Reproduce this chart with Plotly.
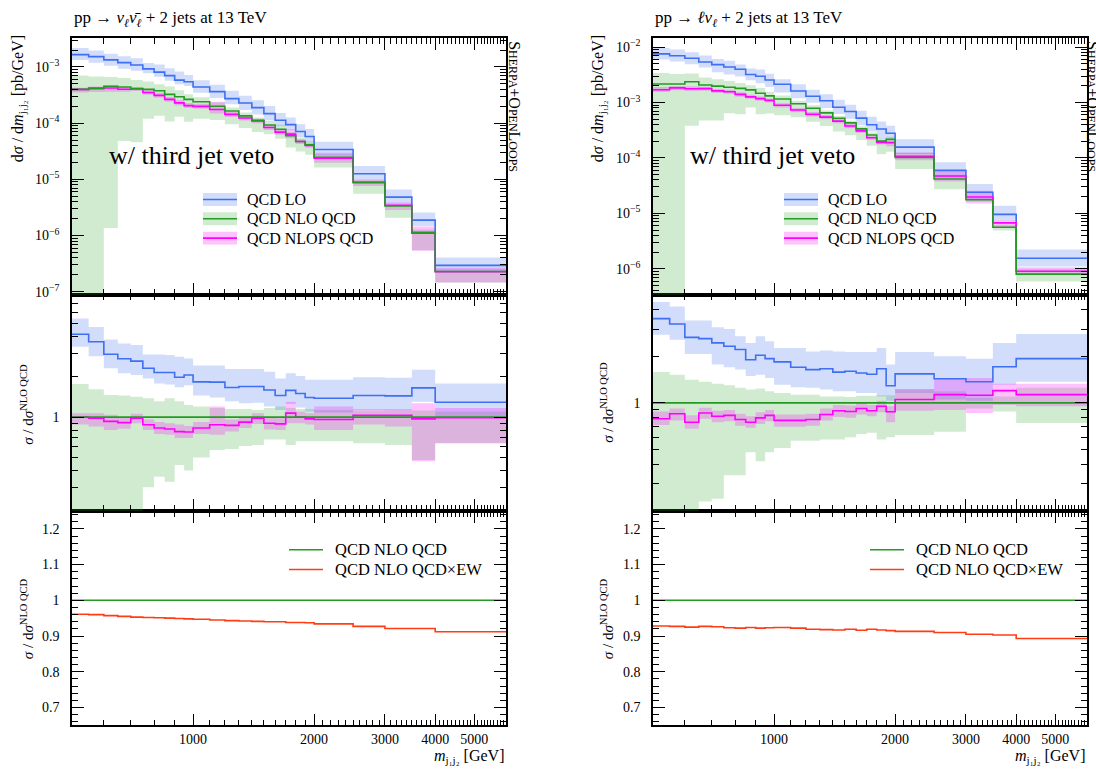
import numpy as np
import plotly.graph_objects as go

W, H = 1096, 771
FONT = "Liberation Serif"

edges = [500, 550, 600, 650, 700, 750, 800, 850, 900, 950, 1000, 1100, 1200, 1300, 1400,
         1500, 1600, 1700, 1800, 1900, 2000, 2500, 3000, 3500, 4000, 6000]

# ---------------- left: pp -> nu nu + 2 jets ----------------
nlo_L = [4.0e-4, 4.2e-4, 4.55e-4, 4.4e-4, 4.15e-4, 4.0e-4, 3.77e-4, 3.26e-4, 2.95e-4, 2.65e-4,
         2.4e-4, 2.0e-4, 1.65e-4, 1.35e-4, 1.12e-4, 9.3e-5, 7.8e-5, 5.97e-5, 4.73e-5, 4.14e-5,
         2.47e-5, 8.7e-6, 3.36e-6, 1.14e-6, 2.29e-7]
nlo_hi_L = [1.76, 1.61, 1.46, 1.45, 1.42, 1.38, 1.31, 1.38, 1.31, 1.23, 1.20, 1.17, 1.15, 1.15, 1.13,
            1.17, 1.20, 1.17, 1.15, 1.15, 1.13, 1.12, 1.12, 1.12, 1.10]
nlo_lo_L = [1e-5, 1e-5, 0.003, 0.11, 0.11, 0.30, 0.36, 0.33, 0.44, 0.40, 0.50, 0.57, 0.58, 0.61, 0.62,
            0.68, 0.68, 0.62, 0.66, 0.66, 0.66, 0.64, 0.62, 0.48, 0.64]
lo_r_L = [4.14, 3.64, 2.94, 2.72, 2.61, 2.31, 2.15, 2.15, 1.98, 2.06, 1.83, 1.82, 1.66, 1.69, 1.69,
          1.59, 1.45, 1.58, 1.50, 1.40, 1.38, 1.45, 1.44, 1.65, 1.29]
lo_hi_L = [5.42, 4.69, 3.78, 3.53, 3.44, 2.93, 2.93, 2.90, 2.81, 2.73, 2.42, 2.42, 2.28, 2.28, 2.28,
           2.18, 1.94, 2.12, 2.02, 1.90, 1.90, 1.98, 1.96, 2.25, 1.78]
lo_lo_L = [3.34, 2.84, 2.31, 2.12, 2.06, 1.94, 1.78, 1.75, 1.67, 1.73, 1.45, 1.40, 1.31, 1.27, 1.28,
           1.20, 1.13, 1.25, 1.18, 1.10, 1.08, 1.13, 1.12, 1.30, 1.00]
ps_r_L = [1.0, 0.98, 0.93, 0.91, 0.98, 0.877, 0.83, 0.815, 0.78, 0.774, 0.83, 0.877, 0.868, 0.918, 0.98,
          0.90, 0.89, 1.07, 1.0, 0.97, 0.96, 1.03, 1.03, 0.97, 0.99]
ps_hi_L = [1.07, 1.07, 1.04, 1.0, 1.06, 0.96, 0.92, 0.9, 0.88, 0.86, 0.92, 1.2, 0.96, 1.0, 1.07,
           1.0, 0.98, 1.3, 1.1, 1.07, 1.2, 1.15, 1.15, 1.27, 1.17]
ps_lo_L = [0.88, 0.85, 0.80, 0.82, 0.90, 0.80, 0.75, 0.74, 0.70, 0.70, 0.75, 0.74, 0.78, 0.83, 0.89,
           0.81, 0.80, 0.90, 0.90, 0.88, 0.80, 0.88, 0.85, 0.47, 0.64]
ew_L = [0.961, 0.960, 0.957, 0.955, 0.953, 0.952, 0.951, 0.950, 0.949, 0.948, 0.947, 0.945, 0.943,
        0.942, 0.941, 0.940, 0.940, 0.938, 0.938, 0.937, 0.934, 0.927, 0.921, 0.921, 0.912]

# ---------------- right: pp -> l nu + 2 jets ----------------
nlo_R = [2.16e-3, 2.16e-3, 2.37e-3, 2.07e-3, 1.98e-3, 1.89e-3, 1.8e-3, 1.69e-3, 1.47e-3, 1.32e-3,
         1.16e-3, 9.5e-4, 7.9e-4, 6.5e-4, 5.2e-4, 4.3e-4, 3.35e-4, 2.6e-4, 2.01e-4, 2.16e-4,
         1.02e-4, 4.17e-5, 1.76e-5, 5.6e-6, 8.0e-7]
nlo_hi_R = [1.58, 1.52, 1.41, 1.37, 1.33, 1.30, 1.25, 1.22, 1.24, 1.19, 1.16, 1.13, 1.13, 1.10, 1.10,
            1.09, 1.11, 1.11, 1.12, 1.12, 1.22, 1.19, 1.08, 1.10, 1.25]
nlo_lo_R = [1e-4, 1e-4, 0.16, 0.23, 0.24, 0.34, 0.34, 0.48, 0.42, 0.48, 0.51, 0.57, 0.57, 0.58, 0.58,
            0.60, 0.63, 0.64, 0.58, 0.60, 0.62, 0.65, 0.92, 0.88, 0.74]
lo_r_R = [3.5, 3.23, 2.65, 2.6, 2.44, 2.32, 2.21, 1.9, 2.03, 1.93, 1.84, 1.7, 1.64, 1.66, 1.58,
          1.6, 1.56, 1.53, 1.66, 1.29, 1.54, 1.43, 1.37, 1.71, 1.93]
lo_hi_R = [4.48, 4.2, 3.4, 3.4, 3.08, 3.0, 2.69, 2.44, 2.69, 2.5, 2.26, 2.26, 2.15, 2.18, 2.15,
           2.13, 2.13, 2.13, 2.26, 1.77, 2.13, 2.0, 1.93, 2.44, 2.79]
lo_lo_R = [2.76, 2.56, 2.07, 2.07, 1.77, 1.70, 1.64, 1.49, 1.52, 1.45, 1.31, 1.26, 1.25, 1.22, 1.19,
           1.19, 1.16, 1.16, 1.10, 1.03, 1.16, 1.05, 1.03, 1.31, 1.37]
ps_r_R = [0.79, 0.85, 0.75, 0.86, 0.82, 0.83, 0.78, 0.75, 0.80, 0.83, 0.77, 0.77, 0.78, 0.84, 0.89,
          0.88, 0.92, 0.89, 0.95, 0.875, 1.05, 1.13, 1.12, 1.20, 1.13]
ps_hi_R = [0.88, 0.92, 0.83, 0.93, 0.89, 0.90, 0.85, 0.82, 0.87, 0.90, 0.84, 0.84, 0.85, 0.92, 0.97,
           0.96, 1.0, 0.97, 1.03, 0.95, 1.23, 1.45, 1.45, 1.33, 1.33]
ps_lo_R = [0.72, 0.77, 0.68, 0.79, 0.75, 0.76, 0.71, 0.69, 0.73, 0.76, 0.70, 0.70, 0.71, 0.77, 0.81,
           0.80, 0.84, 0.82, 0.87, 0.75, 0.89, 0.90, 0.86, 0.97, 0.95]
ew_R = [0.928, 0.927, 0.925, 0.927, 0.926, 0.923, 0.922, 0.924, 0.922, 0.923, 0.924, 0.922, 0.919,
        0.918, 0.917, 0.919, 0.916, 0.919, 0.917, 0.915, 0.913, 0.910, 0.905, 0.903, 0.893]

x_major = [1000, 2000, 3000, 4000, 5000]
x_major_text = ["1000", "2000", "3000", "4000", "5000"]

BLUE, BLUE_F = "#3f6ff2", "rgba(70,120,240,0.25)"
GREEN, GREEN_F = "#249a24", "rgba(40,160,40,0.21)"
MAG, MAG_F = "#ff00ff", "rgba(255,0,255,0.24)"
RED = "#ff3c14"


def px(x):
    return x / W


def py(y):
    return 1 - y / H


def step(v):
    v = list(v)
    return v + [v[-1]]


fig = go.Figure()


def band(xa, ya, lo, hi, fill):
    fig.add_trace(go.Scatter(x=edges, y=step(lo), mode="lines", line=dict(width=0, shape="hv"),
                             xaxis=xa, yaxis=ya, showlegend=False, hoverinfo="skip"))
    fig.add_trace(go.Scatter(x=edges, y=step(hi), mode="lines", line=dict(width=0, shape="hv"),
                             fill="tonexty", fillcolor=fill, xaxis=xa, yaxis=ya,
                             showlegend=False, hoverinfo="skip"))


def line(xa, ya, v, color, width=1.6):
    fig.add_trace(go.Scatter(x=edges, y=step(v), mode="lines",
                             line=dict(color=color, width=width, shape="hv"),
                             xaxis=xa, yaxis=ya, showlegend=False, hoverinfo="skip"))


def panel_set(nlo, nhi, nlo_lo, lor, lohi, lolo, psr, pshi, pslo, ew, axes):
    (xb, yb), (xm, ym), (xt, yt) = axes
    nlo = np.array(nlo)
    # top panel
    band(xt, yt, nlo * np.array(nlo_lo), nlo * np.array(nhi), GREEN_F)
    band(xt, yt, nlo * np.array(lolo), nlo * np.array(lohi), BLUE_F)
    band(xt, yt, nlo * np.array(pslo), nlo * np.array(pshi), MAG_F)
    line(xt, yt, nlo * np.array(lor), BLUE)
    line(xt, yt, nlo * np.array(psr), MAG)
    line(xt, yt, nlo, GREEN)
    # ratio panel
    band(xm, ym, nlo_lo, nhi, GREEN_F)
    band(xm, ym, lolo, lohi, BLUE_F)
    band(xm, ym, pslo, pshi, MAG_F)
    line(xm, ym, lor, BLUE)
    line(xm, ym, psr, MAG)
    line(xm, ym, nlo / nlo, GREEN)
    # EW panel
    line(xb, yb, nlo / nlo, GREEN)
    line(xb, yb, ew, RED)


panel_set(nlo_L, nlo_hi_L, nlo_lo_L, lo_r_L, lo_hi_L, lo_lo_L, ps_r_L, ps_hi_L, ps_lo_L, ew_L,
          [("x", "y"), ("x2", "y2"), ("x3", "y3")])
panel_set(nlo_R, nlo_hi_R, nlo_lo_R, lo_r_R, lo_hi_R, lo_lo_R, ps_r_R, ps_hi_R, ps_lo_R, ew_R,
          [("x4", "y4"), ("x5", "y5"), ("x6", "y6")])

# ---------------- axes ----------------
dom_L = [px(72), px(506)]
dom_R = [px(653), px(1087)]
dom_top = [py(296), py(37.5)]
dom_mid = [py(514), py(296)]
dom_bot = [py(730), py(514)]

x_minor = [v for v in range(600, 6000, 100) if v not in x_major]
tickfont = dict(family=FONT, size=14, color="black")
axline = dict(showline=True, linecolor="black", linewidth=1.5, mirror="allticks",
              showgrid=False, zeroline=False, ticks="inside", tickcolor="black", tickwidth=1.3)


def xax(domain, anchor, labels, matches=None):
    d = dict(type="log", range=[np.log10(500), np.log10(6000)], domain=domain, anchor=anchor,
             tickmode="array", tickvals=x_major, ticktext=x_major_text, showticklabels=labels,
             ticklen=12, tickfont=tickfont,
             minor=dict(tickmode="array", tickvals=x_minor, ticks="inside", ticklen=6,
                        tickwidth=1.2, tickcolor="black"), **axline)
    if matches:
        d["matches"] = matches
    return d


def log_minor(lo_dec, hi_dec, mults):
    return [m * 10.0 ** d for d in range(lo_dec, hi_dec + 1) for m in mults]


def top_y(domain, anchor, rng, decs):
    return dict(type="log", range=rng, domain=domain, anchor=anchor, tickmode="array",
                tickvals=[10.0 ** d for d in decs],
                ticktext=["10<sup>\u2212%d</sup>" % (-d) for d in decs],
                ticklen=12, tickfont=tickfont, ticklabelstandoff=8,
                minor=dict(tickmode="array", tickvals=log_minor(-9, -1, range(2, 10)),
                           ticks="inside", ticklen=6, tickwidth=1.2, tickcolor="black"), **axline)


def mid_y(domain, anchor, rng):
    return dict(type="log", range=rng, domain=domain, anchor=anchor, tickmode="array",
                tickvals=[1], ticktext=["1"], ticklen=12, tickfont=tickfont, ticklabelstandoff=8,
                minor=dict(tickmode="array", tickvals=[0.2, 0.3, 0.4, 0.5, 0.6, 0.7, 0.8, 0.9,
                                                       2, 3, 4, 5, 6, 7, 8, 9],
                           ticks="inside", ticklen=6, tickwidth=1.2, tickcolor="black"), **axline)


def bot_y(domain, anchor):
    return dict(range=[0.65, 1.25], domain=domain, anchor=anchor, tickmode="array",
                tickvals=[0.7, 0.8, 0.9, 1.0, 1.1, 1.2], ticktext=["0.7", "0.8", "0.9", "1", "1.1", "1.2"],
                ticklen=12, tickfont=tickfont, ticklabelstandoff=8,
                minor=dict(dtick=0.02, tick0=0.0, ticks="inside", ticklen=6, tickwidth=1.2,
                           tickcolor="black"), **axline)


layout_axes = dict(
    xaxis=xax(dom_L, "y", True),
    xaxis2=xax(dom_L, "y2", False, "x"),
    xaxis3=xax(dom_L, "y3", False, "x"),
    xaxis4=xax(dom_R, "y4", True),
    xaxis5=xax(dom_R, "y5", False, "x4"),
    xaxis6=xax(dom_R, "y6", False, "x4"),
    yaxis=bot_y(dom_bot, "x"),
    yaxis2=mid_y(dom_mid, "x2", [np.log10(0.2), np.log10(8.15)]),
    yaxis3=top_y(dom_top, "x3", [-7.052, -2.488], [-7, -6, -5, -4, -3]),
    yaxis4=bot_y(dom_bot, "x4"),
    yaxis5=mid_y(dom_mid, "x5", [np.log10(0.2), np.log10(5.0)]),
    yaxis6=top_y(dom_top, "x6", [-6.468, -1.839], [-6, -5, -4, -3, -2]),
)

# ---------------- annotations & legend shapes ----------------
ann = []
shapes = []


def text(x, y, s, size=16, xanchor="left", yanchor="middle", angle=0):
    ann.append(dict(x=px(x), y=py(y), xref="paper", yref="paper", text=s, showarrow=False,
                    xanchor=xanchor, yanchor=yanchor, textangle=angle,
                    font=dict(family=FONT, size=size, color="black")))


ell = "<i>\u2113</i>"
text(72, 18, "pp \u2192 <i>\u03bd</i><sub>%s</sub><i>\u03bd\u0304</i><sub>%s</sub> + 2 jets at 13 TeV" % (ell, ell), 17)
text(653, 18, "pp \u2192 %s<i>\u03bd</i><sub>%s</sub> + 2 jets at 13 TeV" % (ell, ell), 17)

for x0 in (0, 581):
    text(107 + x0, 156, "w/ third jet veto", 26)
    # legend top
    for (yc, lc, fc, lab) in [(200, BLUE, BLUE_F, "QCD LO"), (219.5, GREEN, GREEN_F, "QCD NLO QCD"),
                              (239, MAG, MAG_F, "QCD NLOPS QCD")]:
        shapes.append(dict(type="rect", xref="paper", yref="paper", x0=px(203 + x0), x1=px(237 + x0),
                           y0=py(yc + 6.5), y1=py(yc - 6.5), fillcolor=fc, line=dict(width=0)))
        shapes.append(dict(type="line", xref="paper", yref="paper", x0=px(203 + x0), x1=px(237 + x0),
                           y0=py(yc), y1=py(yc), line=dict(color=lc, width=1.6)))
        text(245 + x0, yc, lab, 16)
    # legend bottom
    for (yc, lc, lab) in [(553, GREEN, "QCD NLO QCD"), (573, RED, "QCD NLO QCD\u00d7EW")]:
        shapes.append(dict(type="line", xref="paper", yref="paper", x0=px(289 + x0), x1=px(323 + x0),
                           y0=py(yc), y1=py(yc), line=dict(color=lc, width=1.6)))
        text(333 + x0, yc, lab, 16.5)
    # axis titles
    text(506 + x0, 761, "<i>m</i><sub>j\u2081j\u2082</sub> [GeV]", 16, xanchor="right")

ytop = "d<i>\u03c3</i> / d<i>m</i><sub>j\u2081j\u2082</sub> [pb/GeV]"
yrat = "<i>\u03c3</i> / d<i>\u03c3</i><sup>NLO QCD</sup>"
text(18, 99, ytop, 16, xanchor="center", angle=-90)
text(598, 99, ytop, 16, xanchor="center", angle=-90)
text(27, 407, yrat, 15, xanchor="center", angle=-90)
text(607, 405, yrat, 15, xanchor="center", angle=-90)
text(27, 623, yrat, 15, xanchor="center", angle=-90)
text(607, 623, yrat, 15, xanchor="center", angle=-90)

sherpa = ("S<span style='font-size:12px'>HERPA</span>+O<span style='font-size:12px'>PEN</span>"
          "L<span style='font-size:12px'>OOPS</span>")
text(515, 106, sherpa, 16, xanchor="center", angle=90)
text(1093, 106, sherpa, 16, xanchor="center", angle=90)

fig.update_layout(
    width=W, height=H, margin=dict(l=0, r=0, t=0, b=0),
    paper_bgcolor="white", plot_bgcolor="white", showlegend=False,
    annotations=ann, shapes=shapes, **layout_axes,
)

fig.write_html("out.html")
